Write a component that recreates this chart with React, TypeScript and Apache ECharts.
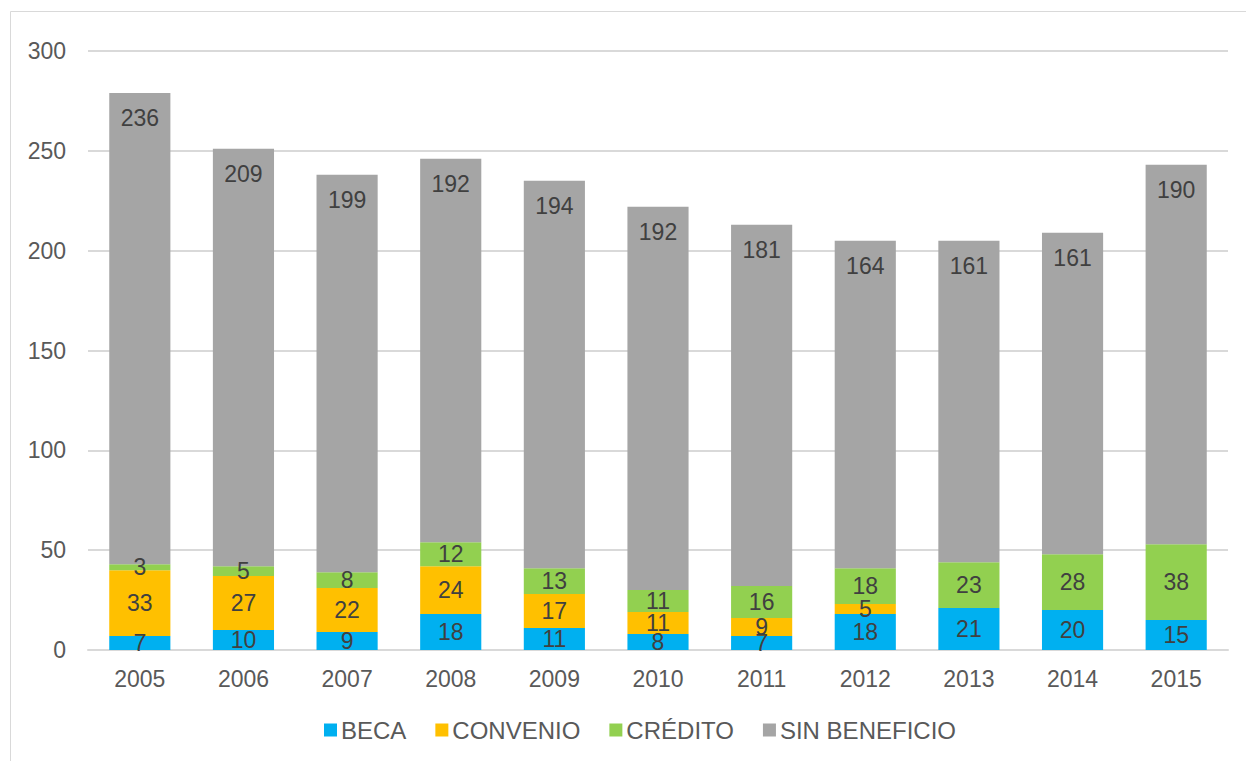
import React, { useEffect, useRef } from "react";
import * as echarts from "echarts";

const years = ["2005", "2006", "2007", "2008", "2009", "2010", "2011", "2012", "2013", "2014", "2015"];
const beca = [7, 10, 9, 18, 11, 8, 7, 18, 21, 20, 15];
const convenio = [33, 27, 22, 24, 17, 11, 9, 5, 0, 0, 0];
const credito = [3, 5, 8, 12, 13, 11, 16, 18, 23, 28, 38];
const sinBeneficio = [236, 209, 199, 192, 194, 192, 181, 164, 161, 161, 190];
const yTicks = { min: 0, max: 300, interval: 50 };

const seriesDefs = [
  { name: "BECA", data: beca, color: "#00B0F0", pos: "inside" },
  { name: "CONVENIO", data: convenio, color: "#FFC000", pos: "inside" },
  { name: "CRÉDITO", data: credito, color: "#92D050", pos: "inside" },
  { name: "SIN BENEFICIO", data: sinBeneficio, color: "#A5A5A5", pos: "insideTop" },
];

const FONT = "Arial, 'Liberation Sans', sans-serif";

export default function App() {
  const ref = useRef<HTMLDivElement>(null);
  useEffect(() => {
    if (!ref.current) return;
    const chart = echarts.init(ref.current, null, { renderer: "svg" });
    chart.setOption({
      animation: false,
      textStyle: { fontFamily: FONT },
      graphic: [
        {
          type: "rect",
          shape: { x: 10.5, y: 11.5, width: 1300, height: 800 },
          style: { fill: "none", stroke: "#D9D9D9", lineWidth: 1 },
          silent: true,
        },
      ],
      grid: { left: 88, right: 18, top: 51, bottom: 111 },
      legend: {
        bottom: 14,
        left: 319,
        itemWidth: 13,
        itemHeight: 13,
        itemGap: 29,
        icon: "rect",
        textStyle: { fontSize: 24, color: "#595959", fontFamily: FONT, padding: [0, 0, 0, -1] },
        data: seriesDefs.map((s) => s.name),
      },
      xAxis: {
        type: "category",
        data: years,
        axisLine: { lineStyle: { color: "#D9D9D9", width: 2 } },
        axisTick: { show: false },
        axisLabel: { fontSize: 23, color: "#595959", margin: 17 },
      },
      yAxis: {
        type: "value",
        min: yTicks.min,
        max: yTicks.max,
        interval: yTicks.interval,
        axisLine: { show: false },
        axisTick: { show: false },
        axisLabel: { fontSize: 23, color: "#595959", margin: 22 },
        splitLine: { lineStyle: { color: "#D9D9D9", width: 2 } },
      },
      series: seriesDefs.map((s) => ({
        name: s.name,
        type: "bar",
        stack: "total",
        data: s.data,
        barWidth: "59%",
        itemStyle: { color: s.color },
        label: {
          show: true,
          position: s.pos,
          distance: 14,
          fontSize: 23,
          color: "#404040",
          fontFamily: FONT,
          formatter: (p: any) => (p.value === 0 ? "" : String(p.value)),
        },
      })),
    });
    return () => chart.dispose();
  }, []);
  return (
    <div
      ref={ref}
      style={{ position: "absolute", left: 0, top: 0, width: 1246, height: 761, background: "#fff" }}
    />
  );
}
